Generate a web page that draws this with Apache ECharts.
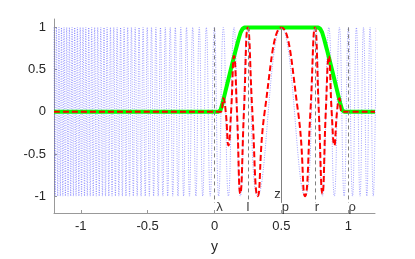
<!DOCTYPE html>
<html><head><meta charset="utf-8">
<script src="https://cdn.jsdelivr.net/npm/echarts@6/dist/echarts.min.js"></script>
<style>html,body{margin:0;padding:0;background:#fff}#c{width:415px;height:259px}</style>
</head><body><div id="c"></div>
<script>
const xTicks = [-1, -0.5, 0, 0.5, 1];
const yTicks = [-1, -0.5, 0, 0.5, 1];

// blue dotted chirp: positions of its peaks/troughs
const blueX = [-1.200,-1.191,-1.182,-1.172,-1.163,-1.153,-1.144,-1.134,-1.125,-1.115,-1.105,-1.095,-1.085,-1.075,-1.065,-1.055,-1.045,-1.035,-1.025,-1.014,-1.004,-0.994,-0.983,-0.972,-0.962,-0.951,-0.940,-0.929,-0.918,-0.907,-0.896,-0.884,-0.873,-0.862,-0.850,-0.838,-0.826,-0.815,-0.803,-0.790,-0.778,-0.766,-0.753,-0.741,-0.728,-0.715,-0.702,-0.689,-0.676,-0.662,-0.649,-0.635,-0.621,-0.607,-0.593,-0.578,-0.564,-0.549,-0.534,-0.518,-0.503,-0.487,-0.471,-0.455,-0.438,-0.421,-0.404,-0.386,-0.368,-0.350,-0.331,-0.312,-0.293,-0.273,-0.252,-0.231,-0.209,-0.187,-0.163,-0.139,-0.114,-0.088,-0.061,-0.032,-0.001,0.031,0.066,0.104,0.146,0.193,0.249,0.323,0.500,0.677,0.751,0.807,0.855,0.896,0.934,0.969,1.001,1.032,1.061,1.088,1.114,1.139,1.163,1.187,1.209];
const blueY = [1,-1,1,-1,1,-1,1,-1,1,-1,1,-1,1,-1,1,-1,1,-1,1,-1,1,-1,1,-1,1,-1,1,-1,1,-1,1,-1,1,-1,1,-1,1,-1,1,-1,1,-1,1,-1,1,-1,1,-1,1,-1,1,-1,1,-1,1,-1,1,-1,1,-1,1,-1,1,-1,1,-1,1,-1,1,-1,1,-1,1,-1,1,-1,1,-1,1,-1,1,-1,1,-1,1,-1,1,-1,1,-1,1,-1,1,-1,1,-1,1,-1,1,-1,1,-1,1,-1,1,-1,1,-1,1];

// green window
const greenX = [-1.2, 0.030, 0.045, 0.060, 0.080, 0.120, 0.160, 0.180, 0.195, 0.210, 0.225, 0.775, 0.790, 0.805, 0.820, 0.840, 0.880, 0.920, 0.940, 0.955, 0.970, 1.2];
const greenY = [0, 0, 0.02, 0.10, 0.23, 0.49, 0.74, 0.86, 0.94, 0.985, 1, 1, 0.985, 0.94, 0.86, 0.74, 0.49, 0.23, 0.10, 0.02, 0, 0];

// red dashed windowed chirp: extrema and zero crossings
const redX = [-1.2, 0.030, 0.048, 0.066, 0.084, 0.104, 0.124, 0.146, 0.168, 0.193, 0.220, 0.249, 0.283, 0.323, 0.375, 0.500, 0.625, 0.677, 0.717, 0.751, 0.780, 0.807, 0.832, 0.855, 0.876, 0.896, 0.916, 0.934, 0.952, 0.970, 1.2];
const redY = [0, 0, 0, 0.16, 0, -0.40, 0, 0.66, 0, -0.97, 0, 1, 0, -1, 0, 1, 0, -1, 0, 1, 0, -0.97, 0, 0.66, 0, -0.40, 0, 0.16, 0, 0, 0];

const guideX = [0, 0.25, 0.5, 0.75, 1];
const guideSolid = [false, false, true, false, false];
const markerNames = ['λ', 'l', 'z', 'p', 'r', 'ρ'];
const markerX = [0, 0.25, 0.5, 0.5, 0.75, 1];

const zip = (xs, ys) => xs.map((x, i) => [x, ys[i]]);
const labelOffsets = [[5, 0], [0, 0], [-4, -13], [4, 0], [2, 0], [4, 0]];

const chart = echarts.init(document.getElementById('c'), null, {renderer: 'canvas'});
const axisCol = '#999';
const txtCol = '#262626';
const font = 'Liberation Sans, Arial, Helvetica, sans-serif';

chart.setOption({
  animation: false,
  backgroundColor: '#fff',
  grid: {left: 54, right: 40, top: 19, bottom: 43},
  xAxis: {
    type: 'value', min: -1.2, max: 1.2,
    name: 'y', nameLocation: 'middle', nameGap: 27,
    nameTextStyle: {fontSize: 14, color: txtCol, fontFamily: font},
    axisLine: {show: true, onZero: false, lineStyle: {color: axisCol, width: 1}},
    axisTick: {show: true, inside: true, length: 3, customValues: xTicks, lineStyle: {color: axisCol}},
    axisLabel: {customValues: xTicks, fontSize: 13, color: txtCol, fontFamily: font, margin: 7},
    splitLine: {show: false}
  },
  yAxis: {
    type: 'value', min: -1.2, max: 1.1,
    axisLine: {show: true, onZero: false, lineStyle: {color: axisCol, width: 1}},
    axisTick: {show: true, inside: true, length: 3, customValues: yTicks, lineStyle: {color: axisCol}},
    axisLabel: {customValues: yTicks, fontSize: 13, color: txtCol, fontFamily: font, margin: 8},
    splitLine: {show: false}
  },
  series: [
    {
      type: 'line', data: zip(blueX, blueY), smooth: true, showSymbol: false, z: 1,
      lineStyle: {color: '#3030ff', width: 0.7, type: [1, 1.4], opacity: 0.65},
      markLine: {
        silent: true, symbol: 'none', label: {show: false},
        data: guideX.map((x, i) => [
          {coord: [x, 1], lineStyle: {color: '#808080', width: 1, type: guideSolid[i] ? 'solid' : [4, 3]}},
          {coord: [x, -1.08]}
        ])
      }
    },
    {
      type: 'line', data: zip(greenX, greenY), smooth: false, showSymbol: false, z: 2,
      lineStyle: {color: '#00ff00', width: 4}
    },
    {
      type: 'line', data: zip(redX, redY), smooth: true, showSymbol: false, z: 3,
      lineStyle: {color: '#ff0000', width: 2, type: [6, 3]}
    },
    {
      type: 'scatter', symbolSize: 0, z: 4, silent: true,
      data: markerX.map((x, i) => ({
        value: [x, -1.13],
        label: {show: true, formatter: markerNames[i], position: 'inside', offset: labelOffsets[i],
          fontSize: 13, color: '#000', fontFamily: font}
      }))
    }
  ]
});
</script>
</body></html>
